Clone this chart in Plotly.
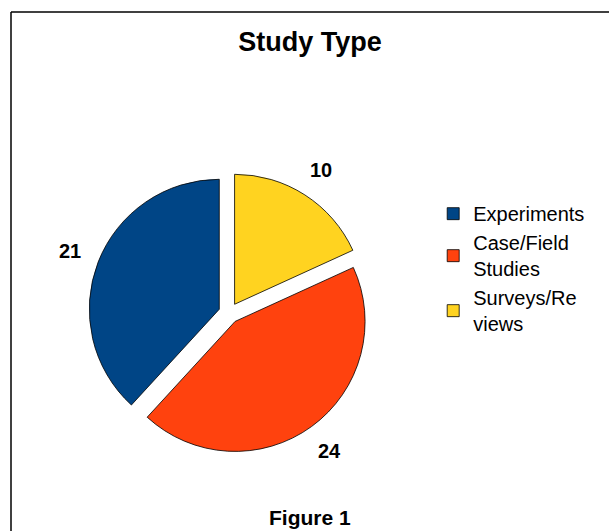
import math
import plotly.graph_objects as go

categories = ["Experiments", "Case/Field<br>Studies", "Surveys/Re<br>views"]
values = [21, 24, 10]
colors = ["#004586", "#ff420e", "#ffd320"]
title_text = "Study Type"
caption_text = "Figure 1"

FONT = "Liberation Sans, Arial, sans-serif"
W, H = 609, 531
ML, MR, MT, MB = 11, 0, 12, 0
PW, PH = W - ML - MR, H - MT - MB
PULL = 0.08
DOM_X = [0.1297, 0.5993]
DOM_Y = [0.1495, 0.6905]
LABEL_DIST = 1.31  # label distance from centre, as a multiple of the radius

# slices run counter-clockwise from 12 o'clock in the reference:
# draw them clockwise in reversed order and reverse the legend back.
labels_cw = categories[::-1]
values_cw = values[::-1]
colors_cw = colors[::-1]

fig = go.Figure()
fig.add_trace(go.Pie(
    labels=labels_cw,
    values=values_cw,
    sort=False,
    direction="clockwise",
    rotation=0,
    pull=[PULL] * len(values_cw),
    marker=dict(colors=colors_cw, line=dict(color="#000000", width=0.8)),
    textinfo="none",
    domain=dict(x=DOM_X, y=DOM_Y),
    hoverinfo="label+value+percent",
))

# value labels placed outside each slice along its bisector
total = sum(values_cw)
r_px = min((DOM_X[1] - DOM_X[0]) * PW, (DOM_Y[1] - DOM_Y[0]) * PH) / 2 / (1 + PULL)
cx, cy = sum(DOM_X) / 2, sum(DOM_Y) / 2
annotations = []
cum = 0
for v in values_cw:
    mid = (cum + v / 2) / total * 2 * math.pi
    cum += v
    dx = math.sin(mid)
    dy = math.cos(mid)
    annotations.append(dict(
        text="<b>%d</b>" % v,
        x=cx + dx * LABEL_DIST * r_px / PW, xref="paper", xanchor="center",
        y=cy + dy * LABEL_DIST * r_px / PH, yref="paper", yanchor="middle",
        showarrow=False,
        font=dict(family=FONT, size=20, color="#000000"),
    ))

annotations.append(dict(
    text="<b>" + caption_text + "</b>",
    x=0.5, xref="paper", xanchor="center",
    y=(H - 517) / PH, yref="paper", yanchor="middle",
    showarrow=False,
    font=dict(family=FONT, size=21, color="#000000"),
))

fig.update_layout(
    width=W, height=H,
    margin=dict(l=ML, r=MR, t=MT, b=MB),
    paper_bgcolor="white", plot_bgcolor="white",
    showlegend=True,
    legend=dict(
        x=0.706, y=0.649, xanchor="left", yanchor="top",
        traceorder="reversed",
        font=dict(family=FONT, size=20, color="#000000"),
        bgcolor="rgba(0,0,0,0)",
    ),
    title=dict(
        text="<b>" + title_text + "</b>",
        x=0.5, xref="paper", xanchor="center",
        y=1 - 42 / H, yref="container", yanchor="middle",
        font=dict(family=FONT, size=27, color="#000000"),
    ),
    annotations=annotations,
    shapes=[
        dict(type="line", xref="paper", yref="paper", x0=0, x1=0, y0=-0.05, y1=1,
             line=dict(color="#000000", width=1.5)),
        dict(type="line", xref="paper", yref="paper", x0=0, x1=1.05, y0=1, y1=1,
             line=dict(color="#000000", width=1.5)),
    ],
)

fig.write_html("out.html")
